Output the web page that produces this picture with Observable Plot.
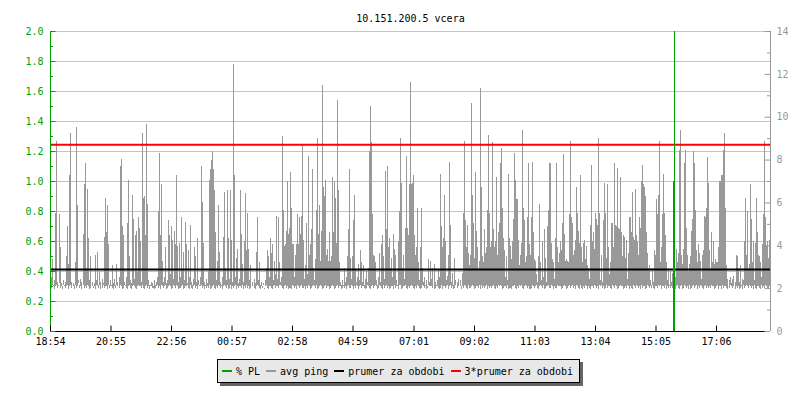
<!DOCTYPE html>
<html>
<head>
<meta charset="utf-8">
<script src="https://cdn.jsdelivr.net/npm/d3@7"></script>
<script src="https://cdn.jsdelivr.net/npm/@observablehq/plot@0.6"></script>
<style>
  body { margin: 0; background: #fff; font-family: "DejaVu Sans Mono", monospace; }
  #wrap { position: relative; width: 800px; height: 400px; }
  #legend { position: absolute; left: 217px; top: 359px; height: 22px; border: 1px solid #000;
    background: #e8e8e8; box-shadow: 3px 3px 0 #666; padding: 0 6px 0 4px; display: flex;
    align-items: center; font: 10px "DejaVu Sans Mono", monospace; white-space: pre; color: #000; }
  #legend .item { display: flex; align-items: center; margin-left: 6px; }
  #legend .item:first-child { margin-left: 0; }
  #legend .sw { display: inline-block; width: 10px; height: 2px; margin-right: 4px; }
</style>
</head>
<body>
<div id="wrap"><div id="chart"></div><div id="legend"></div></div>
<script>
const title = "10.151.200.5 vcera";
const startTime = "18:54";
const xTickLabels = ["18:54","20:55","22:56","00:57","02:58","04:59","07:01","09:02","11:03","13:04","15:05","17:06"];
const leftTicks = [0.0,0.2,0.4,0.6,0.8,1.0,1.2,1.4,1.6,1.8,2.0];
const leftMinorTicks = [0.1,0.3,0.5,0.7,0.9,1.1,1.3,1.5,1.7,1.9];
const rightTickLabels = [0,2,4,6,8,10,12,14];
const rightMinorTicks = [1,3,5,7,9,11,13];
const legendLabels = ["% PL","avg ping","prumer za obdobi","3*prumer za obdobi"];
const legendColors = ["#00a000","#999999","#000000","#ff0000"];

// avg ping, one value per 2-minute sample from 18:54 (upper envelope)
const ping = [
0.33,0.36,0.48,0.31,0.34,0.79,1.27,0.33,0.31,0.78,
0.56,0.32,0.30,0.34,0.31,0.33,0.50,0.70,0.45,1.04,
1.32,0.33,0.30,0.32,0.31,0.46,1.36,0.84,0.34,0.31,
0.35,0.33,0.30,0.65,0.98,1.12,0.42,0.95,0.62,0.34,
0.50,0.31,0.33,0.30,0.32,0.51,0.34,0.53,0.31,0.40,
0.33,0.30,0.35,0.32,0.63,0.89,0.66,0.84,0.58,0.31,
0.34,0.30,0.44,0.32,0.35,0.31,0.45,0.33,0.30,0.36,
1.10,1.15,0.70,0.64,0.33,0.31,0.36,0.72,1.01,0.50,
0.34,0.32,0.91,0.75,0.35,0.64,0.67,0.40,0.76,0.69,
0.60,0.33,1.32,0.89,0.90,0.64,1.38,0.85,0.34,0.31,
0.30,0.33,0.32,0.29,0.34,0.31,0.33,0.36,0.80,1.19,
0.64,0.98,0.47,0.33,0.36,0.56,0.32,0.34,0.74,0.64,
0.38,0.70,0.61,0.35,0.67,0.58,1.04,0.57,0.33,0.59,
0.36,0.76,0.41,0.53,0.34,0.73,0.58,0.32,0.54,0.36,
0.71,0.33,0.31,0.35,0.56,0.50,0.33,0.62,0.34,0.31,
0.36,1.10,0.86,0.59,0.33,0.30,0.35,0.32,0.40,1.01,
1.08,1.14,1.20,1.08,0.94,0.66,0.34,0.47,0.84,0.53,
0.33,0.31,0.36,0.63,0.93,0.42,0.34,0.94,0.62,0.35,
0.94,0.61,0.33,1.78,1.04,0.36,0.49,0.55,0.32,0.35,
0.94,0.65,0.45,0.33,0.60,0.92,0.54,0.79,0.55,0.34,
0.44,0.31,0.33,0.30,0.35,0.32,0.53,0.76,0.34,0.46,
0.31,0.33,0.30,0.32,0.29,0.34,0.42,0.54,0.50,0.36,
0.62,0.52,0.58,0.34,0.47,0.38,0.77,0.35,0.76,0.46,
0.33,0.36,1.30,0.81,0.57,0.58,0.67,1.00,0.65,0.69,
1.06,0.82,0.58,0.58,0.36,0.51,0.58,0.78,0.58,0.76,
0.65,0.77,1.24,0.61,0.35,0.44,0.72,0.38,1.17,0.51,
0.58,0.68,1.08,0.42,0.34,0.48,0.81,1.29,0.65,0.84,
0.47,0.67,1.64,0.96,0.90,1.01,0.51,0.55,0.47,0.66,
0.47,0.50,1.03,0.66,1.00,0.89,0.59,1.54,0.94,0.46,
0.33,0.31,0.34,0.30,0.42,0.33,0.36,0.50,0.68,1.08,
0.49,0.35,0.50,0.74,0.91,0.41,0.33,0.36,0.45,0.34,
0.54,0.46,0.33,0.44,0.31,0.35,0.40,0.33,0.42,1.20,
1.50,1.26,0.78,0.51,0.50,0.46,0.34,0.31,0.36,0.52,
0.33,0.58,0.64,0.50,0.35,1.07,0.68,1.10,0.56,0.62,
0.42,0.49,0.36,0.65,0.55,0.51,0.34,0.31,0.60,0.80,
1.29,0.99,0.42,0.51,0.35,0.69,1.17,0.69,0.64,0.98,
1.66,0.98,0.99,1.04,0.64,0.51,0.56,0.82,0.46,0.34,
0.56,0.82,0.42,0.33,0.36,0.31,0.34,0.30,0.48,0.33,
0.47,0.35,0.42,0.31,0.45,0.33,0.30,0.34,0.41,0.36,
1.05,0.70,0.56,0.62,0.91,0.60,0.34,0.37,0.51,1.13,
0.71,0.33,0.39,0.31,0.49,0.34,0.30,0.33,0.35,0.31,
0.34,0.30,0.39,0.79,1.27,0.74,0.56,0.71,0.52,0.44,
0.51,1.52,0.91,0.72,0.49,1.06,0.67,0.56,0.42,0.47,
1.62,0.96,0.50,0.46,0.68,0.52,0.56,0.81,1.31,0.79,
0.56,0.60,1.26,0.68,0.56,0.60,1.03,0.51,0.66,0.72,
1.12,1.22,0.82,0.62,0.54,0.36,0.50,0.34,1.05,0.62,
0.57,0.48,0.60,0.75,1.19,1.01,0.88,0.88,0.61,0.44,
0.51,0.59,1.34,0.82,0.74,0.46,0.50,0.76,1.12,0.58,
0.51,0.76,1.13,0.66,0.48,0.47,0.38,0.33,0.50,0.85,
0.46,0.34,0.60,0.36,0.68,0.49,0.33,0.70,0.81,1.12,
1.12,0.59,0.48,0.46,0.35,0.62,1.12,0.56,0.46,0.52,
0.60,0.54,0.72,1.18,0.65,0.47,0.48,0.47,0.46,0.78,
1.27,0.76,0.72,0.51,0.54,0.61,0.96,0.79,0.67,0.59,
1.04,0.56,0.46,0.59,0.61,0.48,0.57,0.44,0.42,0.35,
0.71,1.11,0.60,0.66,0.55,0.79,0.75,0.71,1.29,0.79,
0.34,0.51,0.33,0.74,0.99,0.79,0.49,0.98,0.56,0.38,
0.46,0.72,0.72,0.56,1.12,0.71,0.70,1.09,0.69,0.68,
1.03,0.66,0.50,0.64,0.63,0.49,0.61,0.35,0.52,0.76,
0.76,0.66,0.93,0.63,0.61,0.95,0.64,0.60,0.51,0.76,
0.69,1.00,1.11,0.98,0.96,0.90,0.66,0.52,0.42,0.44,
0.34,0.31,0.42,0.33,0.54,0.51,0.88,0.78,0.91,1.27,
0.46,0.56,0.78,1.05,0.79,0.64,0.46,0.34,0.42,0.31,
0.40,0.33,0.39,0.31,0.33,0.36,0.55,0.46,0.52,1.21,
1.34,0.51,0.45,0.55,1.12,1.21,0.69,0.51,0.40,0.45,
0.50,0.67,0.75,1.20,1.12,0.81,0.54,0.46,0.58,0.52,
0.47,0.35,0.51,0.54,0.77,0.76,0.82,1.16,0.99,0.54,
0.42,0.66,0.46,0.60,0.45,0.48,0.46,0.46,0.56,1.00,
1.00,1.04,1.04,1.21,1.32,0.82,0.44,0.35,0.31,0.34,
0.36,0.32,0.35,0.37,0.31,0.33,0.51,0.50,0.42,0.33,
0.44,0.31,0.35,0.34,0.60,0.89,0.51,0.80,0.42,0.45,
0.98,0.75,0.46,0.60,0.34,0.59,0.89,0.66,0.51,0.50,
0.46,0.36,0.58,0.78,1.27,0.76,0.57,0.60,0.49,0.61
];

// lower envelope of avg ping per sample
const pingLow = [
0.30,0.29,0.31,0.30,0.28,0.30,0.31,0.29,0.30,0.32,
0.29,0.30,0.28,0.31,0.30,0.29,0.30,0.31,0.28,0.30,
0.31,0.29,0.30,0.30,0.28,0.31,0.29,0.30,0.32,0.29,
0.30,0.28,0.30,0.31,0.29,0.30,0.29,0.31,0.30,0.28,
0.29,0.31,0.30,0.29,0.30,0.28,0.31,0.30,0.29,0.31,
0.28,0.30,0.29,0.31,0.29,0.30,0.30,0.28,0.31,0.29,
0.30,0.31,0.29,0.28,0.30,0.29,0.31,0.30,0.30,0.29,
0.31,0.30,0.28,0.29,0.31,0.30,0.29,0.28,0.30,0.31,
0.29,0.28,0.30,0.31,0.30,0.29,0.28,0.30,0.31,0.30,
0.30,0.29,0.31,0.29,0.28,0.30,0.31,0.29,0.30,0.28,
0.31,0.30,0.29,0.30,0.28,0.29,0.30,0.31,0.29,0.30,
0.28,0.31,0.30,0.29,0.30,0.31,0.28,0.29,0.30,0.31,
0.30,0.28,0.29,0.31,0.30,0.29,0.31,0.30,0.28,0.29,
0.29,0.30,0.31,0.28,0.29,0.30,0.30,0.31,0.29,0.28,
0.31,0.29,0.28,0.30,0.31,0.29,0.30,0.28,0.31,0.30,
0.30,0.31,0.29,0.30,0.28,0.31,0.29,0.30,0.29,0.31,
0.28,0.29,0.30,0.31,0.29,0.28,0.30,0.29,0.31,0.30,
0.29,0.30,0.28,0.30,0.31,0.30,0.29,0.31,0.28,0.29,
0.31,0.28,0.30,0.29,0.30,0.31,0.28,0.30,0.29,0.30,
0.30,0.29,0.31,0.28,0.30,0.29,0.31,0.29,0.30,0.28,
0.29,0.31,0.30,0.30,0.29,0.28,0.30,0.31,0.30,0.29,
0.28,0.30,0.29,0.31,0.28,0.30,0.31,0.29,0.28,0.30,
0.30,0.29,0.28,0.30,0.31,0.29,0.30,0.30,0.29,0.31,
0.31,0.30,0.29,0.28,0.30,0.31,0.29,0.30,0.28,0.29,
0.29,0.28,0.31,0.30,0.29,0.30,0.28,0.31,0.30,0.29,
0.30,0.31,0.29,0.29,0.30,0.28,0.30,0.29,0.31,0.30,
0.28,0.29,0.30,0.31,0.30,0.29,0.31,0.28,0.29,0.30,
0.31,0.30,0.28,0.29,0.30,0.31,0.29,0.30,0.30,0.28,
0.29,0.30,0.31,0.30,0.28,0.29,0.30,0.31,0.29,0.30,
0.30,0.28,0.29,0.31,0.29,0.30,0.28,0.30,0.31,0.29,
0.29,0.31,0.30,0.28,0.30,0.29,0.31,0.30,0.28,0.30,
0.31,0.29,0.30,0.30,0.29,0.28,0.29,0.31,0.30,0.29,
0.28,0.30,0.31,0.29,0.30,0.31,0.30,0.28,0.29,0.31,
0.30,0.29,0.28,0.31,0.29,0.30,0.31,0.29,0.30,0.28,
0.29,0.30,0.30,0.28,0.31,0.29,0.30,0.30,0.28,0.31,
0.31,0.28,0.29,0.30,0.30,0.31,0.29,0.28,0.30,0.29,
0.30,0.31,0.30,0.29,0.28,0.30,0.29,0.31,0.30,0.29,
0.28,0.29,0.31,0.30,0.29,0.30,0.28,0.29,0.31,0.30,
0.30,0.30,0.29,0.31,0.28,0.29,0.31,0.30,0.29,0.28,
0.29,0.31,0.28,0.30,0.30,0.29,0.30,0.31,0.28,0.30,
0.31,0.29,0.30,0.28,0.29,0.31,0.30,0.29,0.30,0.31,
0.30,0.28,0.30,0.29,0.31,0.30,0.29,0.28,0.31,0.29,
0.29,0.30,0.31,0.30,0.28,0.29,0.30,0.30,0.29,0.31,
0.28,0.31,0.29,0.30,0.29,0.30,0.31,0.28,0.30,0.29,
0.30,0.29,0.30,0.31,0.29,0.28,0.30,0.29,0.31,0.30,
0.31,0.30,0.28,0.29,0.30,0.30,0.29,0.31,0.28,0.29,
0.29,0.28,0.30,0.30,0.31,0.29,0.28,0.30,0.29,0.31,
0.30,0.31,0.29,0.28,0.30,0.31,0.30,0.29,0.30,0.28,
0.28,0.29,0.31,0.30,0.29,0.30,0.31,0.29,0.28,0.30,
0.31,0.30,0.29,0.31,0.28,0.29,0.30,0.30,0.31,0.29,
0.29,0.31,0.30,0.28,0.30,0.29,0.29,0.31,0.30,0.30,
0.30,0.28,0.29,0.30,0.31,0.30,0.28,0.29,0.30,0.31,
0.29,0.30,0.31,0.29,0.30,0.28,0.31,0.30,0.29,0.28,
0.31,0.29,0.28,0.30,0.29,0.31,0.30,0.28,0.30,0.29,
0.28,0.30,0.30,0.29,0.31,0.30,0.29,0.30,0.28,0.31,
0.30,0.31,0.29,0.30,0.28,0.29,0.31,0.29,0.30,0.30,
0.29,0.28,0.31,0.30,0.29,0.31,0.30,0.28,0.29,0.30,
0.31,0.30,0.30,0.28,0.29,0.30,0.29,0.31,0.30,0.28,
0.30,0.29,0.28,0.31,0.30,0.29,0.31,0.30,0.29,0.30,
0.28,0.31,0.29,0.30,0.30,0.28,0.29,0.31,0.30,0.29,
0.30,0.29,0.31,0.29,0.28,0.30,0.30,0.29,0.31,0.30,
0.31,0.28,0.30,0.30,0.29,0.31,0.28,0.30,0.29,0.30,
0.29,0.30,0.29,0.31,0.30,0.28,0.30,0.31,0.29,0.28,
0.30,0.31,0.28,0.29,0.31,0.30,0.29,0.30,0.28,0.31,
0.28,0.29,0.30,0.31,0.29,0.30,0.31,0.28,0.30,0.29,
0.31,0.30,0.29,0.28,0.30,0.31,0.29,0.30,0.29,0.30,
0.29,0.31,0.30,0.30,0.28,0.29,0.30,0.31,0.28,0.30,
0.30,0.28,0.31,0.29,0.30,0.30,0.29,0.28,0.31,0.29,
0.31,0.30,0.29,0.30,0.31,0.28,0.30,0.29,0.30,0.28,
0.29,0.30,0.28,0.31,0.29,0.30,0.31,0.30,0.29,0.31,
0.30,0.29,0.30,0.28,0.31,0.29,0.28,0.30,0.30,0.29,
0.28,0.31,0.29,0.30,0.29,0.31,0.30,0.29,0.28,0.30
];

// packet loss (% PL) samples: minutes after 18:54 and value
const plMinutes = [1246, 1248];
const plValues = [1.0, 2.0];

const meanPing = 0.413;     // prumer za obdobi
const limitPing = 1.245;    // 3*prumer za obdobi

const GREEN = "#00a000", GRAY = "#999999", GRID = "#c4c4c4";

function minutesFrom(start, t) {
  const [h0, m0] = start.split(":").map(Number);
  const [h, m] = t.split(":").map(Number);
  let d = (h * 60 + m) - (h0 * 60 + m0);
  if (d < 0) d += 1440;
  return d;
}
const xTicks = xTickLabels.map(t => minutesFrom(startTime, t));
const xLabelOf = new Map(xTicks.map((m, i) => [m, xTickLabels[i]]));
const rightTicks = rightTickLabels.map(v => v / 7);
const rightMinor = rightMinorTicks.map(v => v / 7);
const idx = ping.map((_, i) => i);

const chart = Plot.plot({
  width: 800,
  height: 348,
  marginLeft: 50,
  marginRight: 30,
  marginTop: 31,
  marginBottom: 17,
  style: { fontFamily: "DejaVu Sans Mono, monospace", fontSize: "10px", background: "#fff", overflow: "visible" },
  x: { domain: [0, 1440] },
  y: { domain: [0, 2] },
  marks: [
    Plot.ruleY(leftTicks.slice(1), { stroke: GRID, strokeWidth: 1 }),
    Plot.rect(idx, {
      x1: i => i * 2, x2: i => i * 2 + 2,
      y1: i => pingLow[i], y2: i => ping[i],
      fill: GRAY, shapeRendering: "crispEdges", clip: true
    }),
    Plot.ruleY([meanPing], { stroke: "#000", strokeWidth: 2 }),
    Plot.ruleY([limitPing], { stroke: "#ff0000", strokeWidth: 2 }),
    Plot.rect(plMinutes, {
      x1: d => d, x2: d => d + 2, y1: 0, y2: (d, i) => plValues[i],
      fill: GREEN, shapeRendering: "crispEdges", clip: true
    }),
    // axis lines
    Plot.ruleX([0], { stroke: GREEN, y1: 0, y2: 2 }),
    Plot.ruleX([1440], { stroke: GRAY, y1: 0, y2: 2 }),
    Plot.ruleY([0], { stroke: "#000", x1: 0, x2: 1440 }),
    // inward ticks
    Plot.ruleY(leftTicks, { x1: 0, x2: 11, stroke: GREEN }),
    Plot.ruleY(leftMinorTicks, { x1: 0, x2: 6, stroke: GREEN }),
    Plot.ruleY(rightTicks, { x1: 1429, x2: 1440, stroke: GRAY }),
    Plot.ruleY(rightMinor, { x1: 1434, x2: 1440, stroke: GRAY }),
    Plot.ruleX(xTicks, { y1: 0, y2: 0.036, stroke: "#000" }),
    // axis labels
    Plot.axisY({ ticks: leftTicks, tickFormat: d => d.toFixed(1), tickSize: 0, tickPadding: 7, color: GREEN, label: null }),
    Plot.axisY({ anchor: "right", ticks: rightTicks, tickFormat: d => String(Math.round(d * 7)), tickSize: 0, tickPadding: 6, color: GRAY, label: null }),
    Plot.axisX({ ticks: xTicks, tickFormat: d => xLabelOf.get(d), tickSize: 0, tickPadding: 6, color: "#000", label: null }),
    Plot.text([title], { frameAnchor: "top", dy: -17, fill: "#000" })
  ]
});
document.getElementById("chart").appendChild(chart);

const legend = document.getElementById("legend");
legendLabels.forEach((lab, i) => {
  const item = document.createElement("span");
  item.className = "item";
  const sw = document.createElement("span");
  sw.className = "sw";
  sw.style.background = legendColors[i];
  const tx = document.createElement("span");
  tx.textContent = lab;
  item.appendChild(sw);
  item.appendChild(tx);
  legend.appendChild(item);
});
</script>
</body>
</html>
